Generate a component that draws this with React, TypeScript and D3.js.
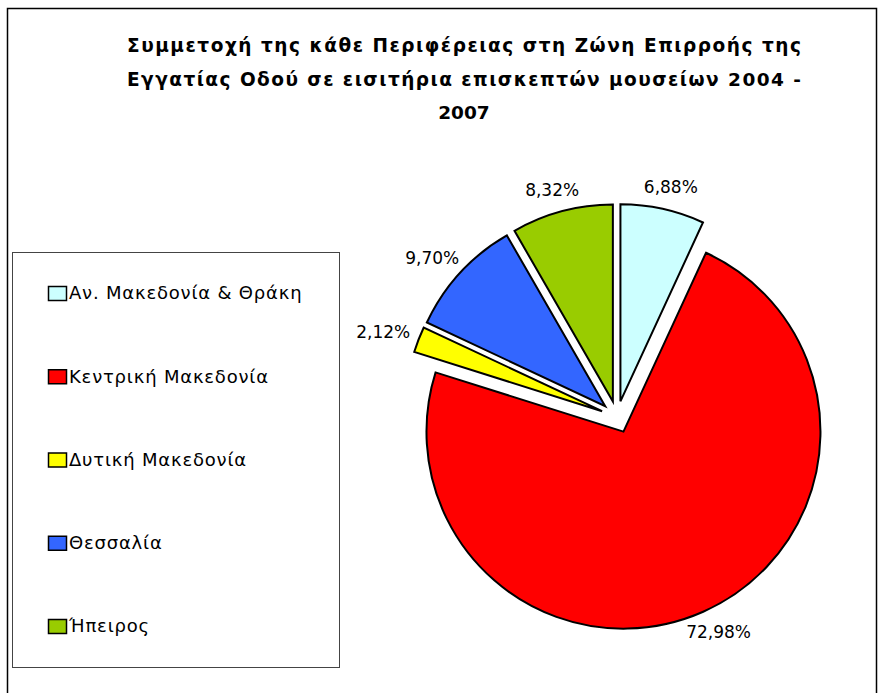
import React from 'react';
import * as d3 from 'd3';

const regions = ['Αν. Μακεδονία & Θράκη', 'Κεντρική Μακεδονία', 'Δυτική Μακεδονία', 'Θεσσαλία', 'Ήπειρος'];
const shares = [6.88, 72.98, 2.12, 9.7, 8.32];
const colors = ['#CCFFFF', '#FF0000', '#FFFF00', '#3366FF', '#99CC00'];
const titleLines = [
  'Συμμετοχή της κάθε Περιφέρειας στη Ζώνη Επιρροής της',
  'Εγγατίας Οδού σε εισιτήρια επισκεπτών μουσείων 2004 -',
  '2007',
];

const W = 881;
const H = 693;
const cx = 617;
const cy = 417;
const R = 197;
const explode = 16;

const fmt = (v: number) => v.toFixed(2).replace('.', ',') + '%';

function App() {
  const pie = d3.pie<number>().value(d => d).sort(null);
  const arcs = pie(shares);
  const arcGen = d3.arc<d3.PieArcDatum<number>>().innerRadius(0).outerRadius(R);

  const legendY = d3.scalePoint<string>().domain(regions).range([293, 626]);

  return (
    <svg width={W} height={H} style={{ position: 'absolute', left: 0, top: 0, background: '#fff' }}
      fontFamily="'DejaVu Sans', sans-serif">
      <rect x={7.5} y={8.5} width={869} height={700} fill="#fff" stroke="#000" strokeWidth={1.5} />

      {titleLines.map((t, i) => (
        <text key={i} x={464} y={52 + i * 33.5} textAnchor="middle" fontSize={18.5} fontWeight="bold"
          textLength={i < 2 ? 674 : undefined} lengthAdjust="spacing">
          {t}
        </text>
      ))}

      {arcs.map((a, i) => {
        const mid = (a.startAngle + a.endAngle) / 2;
        const dx = Math.sin(mid);
        const dy = -Math.cos(mid);
        const ox = cx + dx * explode;
        const oy = cy + dy * explode;
        const lr = R + 22;
        const lx = ox + dx * lr + dx * 16;
        const ly = oy + dy * lr;
        return (
          <g key={regions[i]}>
            <path d={arcGen(a) || ''} transform={`translate(${ox},${oy})`} fill={colors[i]}
              stroke="#000" strokeWidth={2} strokeLinejoin="miter" />
            <text x={lx} y={ly} dy="0.35em" textAnchor="middle" fontSize={17}>{fmt(shares[i])}</text>
          </g>
        );
      })}

      <rect x={12.5} y={252.5} width={327} height={415} fill="#fff" stroke="#444" strokeWidth={1} />
      {regions.map((r, i) => (
        <g key={r} transform={`translate(48,${legendY(r)})`}>
          <rect x={0.5} y={-6.5} width={18} height={14} fill={colors[i]} stroke="#000" strokeWidth={1.5} />
          <text x={21} y={0} dy="0.36em" fontSize={18} letterSpacing={0.8}>{r}</text>
        </g>
      ))}
    </svg>
  );
}

export default App;
